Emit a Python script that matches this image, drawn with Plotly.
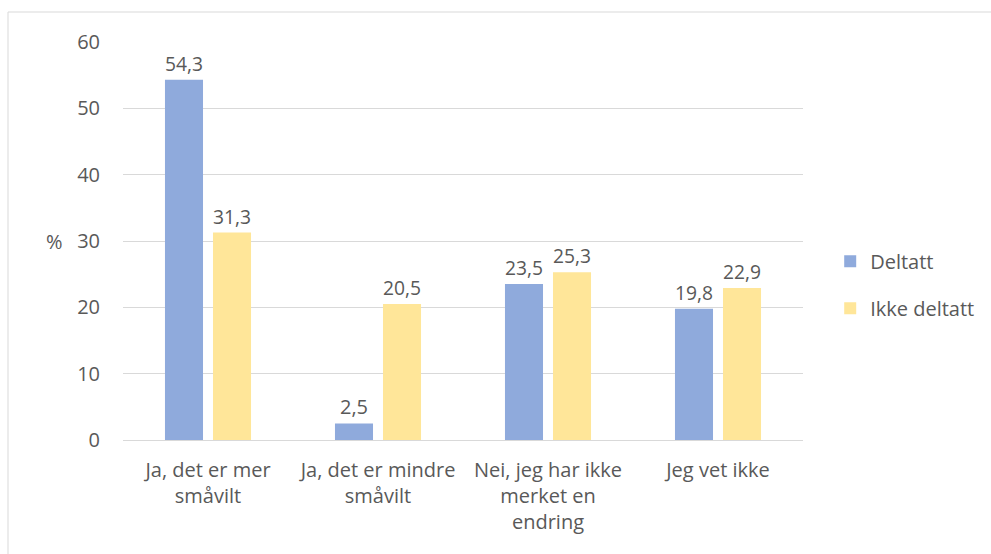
import plotly.graph_objects as go

categories = ["Ja, det er mer<br>småvilt", "Ja, det er mindre<br>småvilt",
              "Nei, jeg har ikke<br>merket en<br>endring", "Jeg vet ikke"]
deltatt = [54.3, 2.5, 23.5, 19.8]
ikke_deltatt = [31.3, 20.5, 25.3, 22.9]
series_names = ["Deltatt", "Ikke deltatt"]
y_ticks = [0, 10, 20, 30, 40, 50, 60]

FONT = "Open Sans"
TXT = "#595959"
FS = 20

fig = go.Figure()
fig.add_trace(go.Bar(x=categories, y=deltatt, name=series_names[0],
                     marker=dict(color="#8faadc", line=dict(width=0)),
                     texttemplate="%{y:.1f}", textposition="outside",
                     textfont=dict(size=FS, color=TXT, family=FONT),
                     cliponaxis=False, legendgroup="a"))
fig.add_trace(go.Bar(x=categories, y=ikke_deltatt, name=series_names[1],
                     marker=dict(color="#ffe699", line=dict(width=0)),
                     texttemplate="%{y:.1f}", textposition="outside",
                     textfont=dict(size=FS, color=TXT, family=FONT),
                     cliponaxis=False, legendgroup="b"))

fig.update_layout(
    width=991, height=554,
    margin=dict(l=123, r=188, t=42, b=114, autoexpand=False),
    paper_bgcolor="white", plot_bgcolor="white",
    separators=", ",
    barmode="group", bargap=0.435, bargroupgap=0.208,
    font=dict(family=FONT, size=FS, color=TXT),
    legend=dict(x=1.04, y=0.39, xanchor="left", yanchor="middle",
                font=dict(size=FS, color=TXT, family=FONT),
                tracegroupgap=18, traceorder="grouped", itemwidth=30),
    xaxis=dict(showgrid=False, showline=True, linecolor="#d9d9d9", linewidth=1,
               ticks="", tickfont=dict(size=FS, color=TXT), ticklabelstandoff=12),
    yaxis=dict(range=[0, 60], tickvals=y_ticks, showgrid=True, gridcolor="#d9d9d9",
               gridwidth=1, zeroline=False, showline=False, ticks="",
               tickfont=dict(size=FS, color=TXT), ticklabelstandoff=22),
    annotations=[dict(text="%", xref="paper", yref="y", x=-0.085, y=30,
                      xanchor="right", yanchor="middle", showarrow=False,
                      font=dict(size=FS, color=TXT, family=FONT))],
    shapes=[dict(type="rect", xref="paper", yref="paper",
                 x0=(8 - 123) / 680, x1=(1100 - 123) / 680,
                 y0=(440 - 700) / 398, y1=(440 - 12) / 398,
                 line=dict(color="#d9d9d9", width=1), layer="below")],
)

fig.write_html("out.html", config={"displayModeBar": False},
               post_script="document.body.style.margin='0';document.body.style.overflow='hidden';")
